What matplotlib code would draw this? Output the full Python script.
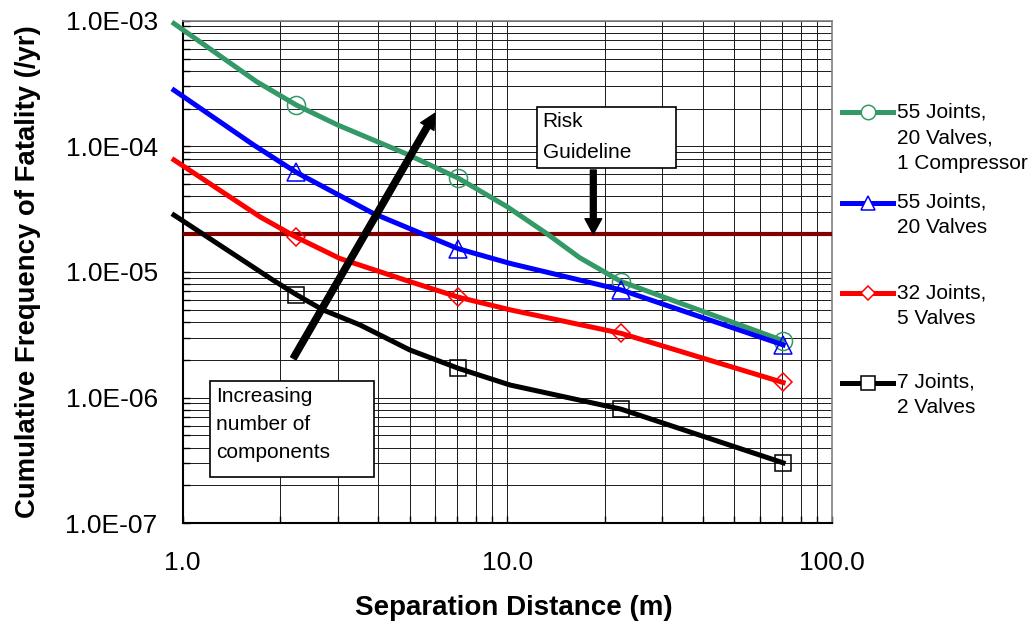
import matplotlib
matplotlib.use('Agg')
import matplotlib.pyplot as plt
from matplotlib.patches import Rectangle, FancyArrowPatch
from matplotlib.lines import Line2D
from matplotlib.ticker import LogLocator, FixedLocator, FixedFormatter, NullFormatter

plt.rcParams['font.family'] = ['Liberation Sans', 'DejaVu Sans']

# Data
marker_x = [2.24, 7.07, 22.4, 70.7]

green_x = [0.94, 1.69, 2.24, 3.0, 4.89, 7.07, 10.0, 13.3, 16.7, 22.4, 70.7]
green_y = [9.5e-4, 3.27e-4, 2.13e-4, 1.48e-4, 8.7e-5, 5.57e-5, 3.3e-5, 2.0e-5, 1.3e-5, 8.4e-6, 2.84e-6]

blue_x = [0.94, 1.65, 2.24, 3.86, 5.5, 7.07, 10.2, 22.4, 70.7]
blue_y = [2.8e-4, 1.03e-4, 6.2e-5, 2.93e-5, 2.0e-5, 1.53e-5, 1.17e-5, 7.2e-6, 2.63e-6]

red_x = [0.94, 1.73, 2.24, 3.05, 5.0, 7.07, 10.2, 22.4, 70.7]
red_y = [7.8e-5, 2.75e-5, 1.89e-5, 1.28e-5, 8.4e-6, 6.3e-6, 5.0e-6, 3.25e-6, 1.32e-6]

black_x = [0.94, 1.9, 2.24, 2.7, 3.51, 5.0, 7.07, 10.2, 22.4, 70.7]
black_y = [2.84e-5, 8.6e-6, 6.6e-6, 5.0e-6, 3.8e-6, 2.4e-6, 1.71e-6, 1.26e-6, 8.1e-7, 3.03e-7]

risk_guideline = 2e-5

labels = ['55 Joints,\n20 Valves,\n1 Compressor',
          '55 Joints,\n20 Valves',
          '32 Joints,\n5 Valves',
          '7 Joints,\n2 Valves']

series = [
    (green_x, green_y, '#339966', 'o'),
    (blue_x, blue_y, '#0000FF', '^'),
    (red_x, red_y, '#FF0000', 'D'),
    (black_x, black_y, '#000000', 's'),
]
msizes = {'o': 13, '^': 13, 'D': 9.5, 's': 12}

W, H = 1035, 624
fig = plt.figure(figsize=(W / 100, H / 100), dpi=100)
ax = fig.add_axes([182.7 / W, 1 - 523.3 / H, 649.3 / W, 502.6 / H])


def fp(x, y):
    # pixel position (from top-left) -> figure fraction
    return (x / W, 1 - y / H)


ax.set_xscale('log')
ax.set_yscale('log')
ax.set_xlim(1, 100)
ax.set_ylim(1e-7, 1e-3)

# grid
ax.grid(which='both', color='#1a1a1a', linewidth=0.7)
ax.set_axisbelow(True)
ax.xaxis.set_minor_locator(LogLocator(base=10, subs=range(2, 10)))
ax.yaxis.set_minor_locator(LogLocator(base=10, subs=range(2, 10)))
ax.xaxis.set_minor_formatter(NullFormatter())
ax.yaxis.set_minor_formatter(NullFormatter())

ax.xaxis.set_major_locator(FixedLocator([1, 10, 100]))
ax.xaxis.set_major_formatter(FixedFormatter(['1.0', '10.0', '100.0']))
ax.yaxis.set_major_locator(FixedLocator([1e-7, 1e-6, 1e-5, 1e-4, 1e-3]))
ax.yaxis.set_major_formatter(FixedFormatter(['1.0E-07', '1.0E-06', '1.0E-05', '1.0E-04', '1.0E-03']))

ax.tick_params(which='both', direction='in', length=5, width=1, top=False, right=False)
ax.tick_params(axis='y', which='major', labelsize=19, pad=18)
ax.tick_params(axis='x', which='major', labelsize=19, pad=20)

for s in ['top', 'right']:
    ax.spines[s].set_color('#808080')
    ax.spines[s].set_linewidth(1.2)
for s in ['left', 'bottom']:
    ax.spines[s].set_color('#000000')
    ax.spines[s].set_linewidth(1.5)

# guideline
ax.axhline(risk_guideline, color='#800000', linewidth=3, zorder=3)

# curves
for xs, ys, c, m in series:
    idx = [xs.index(v) for v in marker_x]
    ax.plot(xs, ys, color=c, linewidth=3.6, marker=m, markevery=idx,
            markersize=msizes[m], markerfacecolor='none', markeredgecolor=c,
            markeredgewidth=1.1, clip_on=False, zorder=4)

ax.set_xlabel('Separation Distance (m)', fontsize=20, fontweight='bold')
ax.xaxis.set_label_coords(0.510, -0.1685)
ax.xaxis.label.set_va('center')
ax.set_ylabel('Cumulative Frequency of Fatality (/yr)', fontsize=19.8, fontweight='bold', va='center')
ax.yaxis.set_label_coords(-0.238, 0.5)

# legend (drawn manually)
leg_y = [112.3, 202.7, 293.3, 382.7]
for (xs, ys, c, m), lab, ly in zip(series, labels, leg_y):
    x0, y0 = fp(841.7, ly)
    x1, _ = fp(893.3, ly)
    fig.add_artist(Line2D([x0, x1], [y0, y0], color=c, linewidth=3.6))
    xm, _ = fp(867.5, ly)
    fig.add_artist(Line2D([xm], [y0], marker=m, markersize=msizes[m] * 0.8,
                          markerfacecolor='white', markeredgecolor=c, markeredgewidth=1.1))
    tx, ty = fp(896.7, ly - 10)
    fig.text(tx, ty, lab, fontsize=15, va='top', ha='left', linespacing=1.45)

# text boxes
bx0, by1 = fp(537.3, 168.3)
bx1, by0 = fp(676, 106.7)
fig.add_artist(Rectangle((bx0, by1), bx1 - bx0, by0 - by1, transform=fig.transFigure,
                         facecolor='white', edgecolor='black', linewidth=1.2, zorder=5))
tx, ty = fp(542.7, 137)
fig.text(tx, ty, 'Risk\nGuideline', fontsize=15, va='center', ha='left', linespacing=1.8, zorder=6)

bx0, by1 = fp(210, 476.7)
bx1, by0 = fp(374.3, 380.7)
fig.add_artist(Rectangle((bx0, by1), bx1 - bx0, by0 - by1, transform=fig.transFigure,
                         facecolor='white', edgecolor='black', linewidth=1.2, zorder=5))
tx, ty = fp(216, 425)
fig.text(tx, ty, 'Increasing\nnumber of\ncomponents', fontsize=15, va='center', ha='left',
         linespacing=1.6, zorder=6)

# arrows
a1 = FancyArrowPatch(fp(293.3, 358.3), fp(435, 113.3), transform=fig.transFigure,
                     arrowstyle='simple,head_length=1.1,head_width=1.1,tail_width=0.45',
                     mutation_scale=10, color='black', shrinkA=0, shrinkB=0, zorder=7)
fig.add_artist(a1)
a2 = FancyArrowPatch(fp(593.3, 170), fp(593.3, 234), transform=fig.transFigure,
                     arrowstyle='simple,head_length=1.1,head_width=1.2,tail_width=0.42',
                     mutation_scale=10, color='black', shrinkA=0, shrinkB=0, zorder=7)
fig.add_artist(a2)

fig.savefig('out.png', dpi=100)
